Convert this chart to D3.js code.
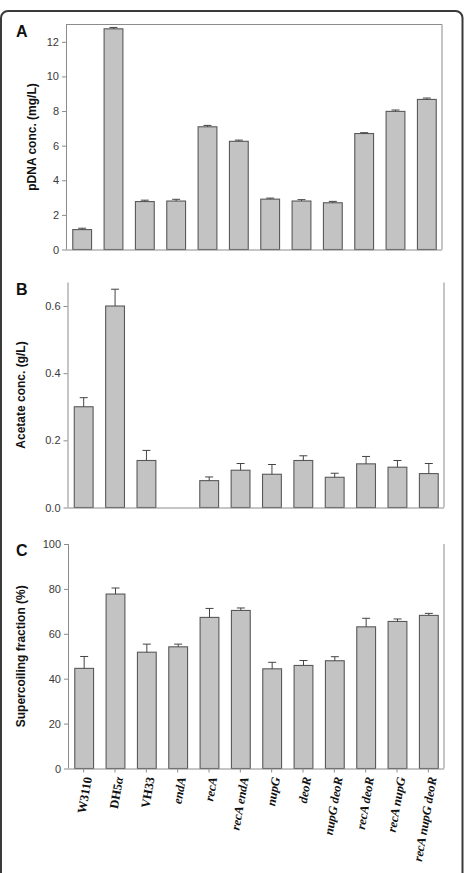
<!DOCTYPE html>
<html>
<head>
<meta charset="utf-8">
<script src="https://cdn.jsdelivr.net/npm/d3@7"></script>
<style>
  html, body { margin: 0; padding: 0; background: #fff; }
  svg { display: block; }
</style>
</head>
<body>
<div id="chart"></div>
<script>
// strains on the x axis
const strains = ["W3110", "DH5α", "VH33", "endA", "recA", "recA endA", "nupG", "deoR",
  "nupG deoR", "recA deoR", "recA nupG", "recA nupG deoR"];
const italicStrains = ["endA", "recA", "recA endA", "nupG", "deoR", "nupG deoR",
  "recA deoR", "recA nupG", "recA nupG deoR"];

// A - pDNA conc. (mg/L)
const pdnaValues = [1.15, 12.75, 2.77, 2.8, 7.09, 6.25, 2.91, 2.8, 2.7, 6.7, 7.98, 8.67];
const pdnaErrors = [0.08, 0.08, 0.08, 0.1, 0.08, 0.07, 0.06, 0.08, 0.08, 0.05, 0.08, 0.08];
const pdnaTicks = [0, 2, 4, 6, 8, 10, 12];

// B - Acetate conc. (g/L)  (endA: no bar)
const acetateValues = [0.30, 0.60, 0.14, 0, 0.08, 0.111, 0.099, 0.14, 0.09, 0.13, 0.12, 0.101];
const acetateErrors = [0.027, 0.05, 0.03, 0, 0.011, 0.02, 0.029, 0.014, 0.012, 0.022, 0.02, 0.03];
const acetateTicks = [0.0, 0.2, 0.4, 0.6];

// C - Supercoiling fraction (%)
const scValues = [44.6, 77.7, 51.8, 54.2, 67.3, 70.4, 44.4, 45.9, 48.0, 63.1, 65.5, 68.2];
const scErrors = [5.3, 2.7, 3.6, 1.2, 4.0, 1.1, 2.9, 2.2, 1.8, 3.8, 1.1, 0.9];
const scTicks = [0, 20, 40, 60, 80, 100];

const W = 465, H = 873;
const svg = d3.select("#chart").append("svg")
  .attr("width", W).attr("height", H);

// outer frame (cut off at the bottom)
svg.append("rect")
  .attr("x", 1).attr("y", 11)
  .attr("width", 461.5).attr("height", 900)
  .attr("rx", 7)
  .attr("fill", "none")
  .attr("stroke", "#3a3a3a")
  .attr("stroke-width", 2);

const axisColor = "#8c8c8c";

function panel(opts) {
  const { letter, values, errors, ticks, fmt, domain, left, right, top, bottom,
    title, titleX, boxTop, xTicks } = opts;

  const x = d3.scaleBand()
    .domain(strains)
    .range([left, right])
    .paddingInner(0.4)
    .paddingOuter(0.2);

  const y = d3.scaleLinear().domain(domain).range([bottom, top]);

  const g = svg.append("g");
  const rows = strains.map((s, i) => ({ s, v: values[i], e: errors[i] })).filter(d => d.v > 0);

  // bars
  g.selectAll("rect.bar")
    .data(rows)
    .enter().append("rect")
    .attr("class", "bar")
    .attr("x", d => x(d.s) + 0.5)
    .attr("y", d => y(d.v))
    .attr("width", x.bandwidth())
    .attr("height", d => y(0) - y(d.v))
    .attr("fill", "#c3c3c3")
    .attr("stroke", "#595959")
    .attr("stroke-width", 1.1);

  // error bars (upper only)
  const eb = g.selectAll("g.err")
    .data(rows)
    .enter().append("g")
    .attr("stroke", "#444")
    .attr("stroke-width", 1);
  eb.append("line")
    .attr("x1", d => x(d.s) + x.bandwidth() / 2 + 0.5)
    .attr("x2", d => x(d.s) + x.bandwidth() / 2 + 0.5)
    .attr("y1", d => y(d.v))
    .attr("y2", d => y(d.v + d.e));
  eb.append("line")
    .attr("x1", d => x(d.s) + x.bandwidth() / 2 - 3.5)
    .attr("x2", d => x(d.s) + x.bandwidth() / 2 + 4.5)
    .attr("y1", d => y(d.v + d.e))
    .attr("y2", d => y(d.v + d.e));

  // y axis
  const yAxis = g.append("g")
    .attr("transform", `translate(${left},0)`)
    .call(d3.axisLeft(y).tickValues(ticks).tickFormat(fmt).tickSize(4).tickPadding(3));
  yAxis.select(".domain").attr("stroke", axisColor).attr("d", `M0.5,${top}V${bottom}`);
  yAxis.selectAll(".tick line").attr("stroke", axisColor);
  yAxis.selectAll(".tick text")
    .attr("fill", "#3a3a3a")
    .style("font-family", "Liberation Sans, Arial, sans-serif")
    .style("font-size", "11px");

  // right side and bottom lines
  g.append("line")
    .attr("x1", right).attr("x2", right).attr("y1", top).attr("y2", bottom)
    .attr("stroke", axisColor);
  if (boxTop) {
    g.append("line")
      .attr("x1", left).attr("x2", right).attr("y1", top).attr("y2", top)
      .attr("stroke", axisColor);
  }

  const xAxis = g.append("g")
    .attr("transform", `translate(0,${bottom})`)
    .call(d3.axisBottom(x).tickSize(xTicks ? 4 : 0).tickFormat(""));
  xAxis.select(".domain").attr("stroke", axisColor).attr("d", `M${left},0.5H${right}`);
  xAxis.selectAll(".tick line").attr("stroke", axisColor);

  // panel letter
  svg.append("text")
    .attr("x", 16).attr("y", top + 12)
    .text(letter)
    .style("font-family", "Liberation Sans, Arial, sans-serif")
    .style("font-weight", "bold")
    .style("font-size", "16px")
    .attr("fill", "#111");

  // y title
  svg.append("text")
    .attr("transform", `translate(${titleX},${(top + bottom) / 2}) rotate(-90)`)
    .attr("text-anchor", "middle")
    .text(title)
    .style("font-family", "Liberation Sans, Arial, sans-serif")
    .style("font-weight", "bold")
    .style("font-size", "12px")
    .attr("fill", "#111");

  return x;
}

panel({
  letter: "A", values: pdnaValues, errors: pdnaErrors, ticks: pdnaTicks,
  fmt: d3.format("d"), domain: [0, 13],
  left: 66, right: 442, top: 24.5, bottom: 249.5,
  title: "pDNA conc. (mg/L)", titleX: 35.5, boxTop: true, xTicks: false
});

panel({
  letter: "B", values: acetateValues, errors: acetateErrors, ticks: acetateTicks,
  fmt: d3.format(".1f"), domain: [0, 0.67],
  left: 67.5, right: 444, top: 282.5, bottom: 507.5,
  title: "Acetate conc. (g/L)", titleX: 25, boxTop: false, xTicks: false
});

const xC = panel({
  letter: "C", values: scValues, errors: scErrors, ticks: scTicks,
  fmt: d3.format("d"), domain: [0, 100],
  left: 68, right: 444, top: 544, bottom: 768.5,
  title: "Supercoiling fraction (%)", titleX: 25, boxTop: false, xTicks: true
});

// strain labels, rotated
const labels = svg.append("g")
  .selectAll("text")
  .data(strains)
  .enter().append("text")
  .attr("transform", d => `translate(${xC(d) + xC.bandwidth() / 2 + 4},777) rotate(-80)`)
  .attr("text-anchor", "end")
  .attr("dy", "0.35em")
  .style("font-family", "Liberation Serif, Times New Roman, serif")
  .style("font-weight", "bold")
  .style("font-size", "12.5px")
  .attr("fill", "#111")
  .style("font-style", d => italicStrains.includes(d) ? "italic" : "normal");

labels.each(function (d) {
  const t = d3.select(this);
  if (d === "DH5α") {
    t.append("tspan").text("DH5");
    t.append("tspan").style("font-style", "italic").text("α");
  } else {
    t.text(d);
  }
});
</script>
</body>
</html>
